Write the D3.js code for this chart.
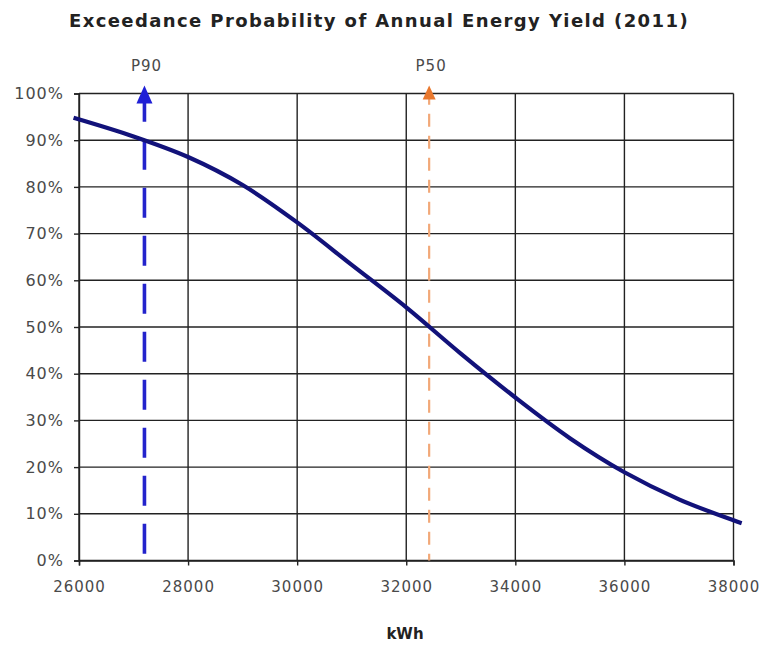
<!DOCTYPE html>
<html>
<head>
<meta charset="utf-8">
<script src="https://cdn.jsdelivr.net/npm/d3@7"></script>
<style>
  body { margin: 0; background: #fff; }
  text { font-family: "DejaVu Sans", Verdana, sans-serif; }
</style>
</head>
<body>
<div id="chart"></div>
<script>
// values
var energy = [25900, 27000, 28000, 29000, 30000, 31000, 32000, 33000, 34000, 35000, 36000, 37000, 38000, 38150];
var exceed = [94.8, 90.8, 86.4, 80.4, 72.4, 63.3, 54.2, 44.3, 34.9, 26.2, 18.9, 13.1, 8.6, 8.0];
var xTicks = [26000, 28000, 30000, 32000, 34000, 36000, 38000];
var yTicks = [0, 10, 20, 30, 40, 50, 60, 70, 80, 90, 100];
var markers = [
  { name: 'P90', kwh: 27200 },
  { name: 'P50', kwh: 32420 }
];

const W = 761, H = 647;
const margin = { top: 93.5, right: 27.5, bottom: 86.5, left: 79 },
    width = W - margin.left - margin.right,
    height = H - margin.top - margin.bottom;

const svg = d3.select('#chart').append('svg')
    .attr('width', W)
    .attr('height', H);

svg.append('text')
    .attr('x', 379)
    .attr('y', 27)
    .attr('text-anchor', 'middle')
    .style('font-size', '18px')
    .style('font-weight', 'bold')
    .style('letter-spacing', '1.4px')
    .attr('fill', '#222')
    .text('Exceedance Probability of Annual Energy Yield (2011)');

const g = svg.append('g')
    .attr('transform', `translate(${margin.left},${margin.top})`);

const x = d3.scaleLinear().domain([26000, 38000]).range([0, width]);
const y = d3.scaleLinear().domain([0, 100]).range([height, 0]);

// grid
g.append('g').selectAll('line').data(yTicks).join('line')
    .attr('x1', 0).attr('x2', width)
    .attr('y1', d => y(d)).attr('y2', d => y(d))
    .attr('stroke', '#222').attr('stroke-width', 1.4);
g.append('g').selectAll('line').data(xTicks).join('line')
    .attr('y1', 0).attr('y2', height)
    .attr('x1', d => x(d)).attr('x2', d => x(d))
    .attr('stroke', '#222').attr('stroke-width', 1.4);

// axes (tick marks outside, labels)
const yAxis = g.append('g')
    .call(d3.axisLeft(y).tickValues(yTicks).tickFormat(d => d + '%').tickSize(5).tickPadding(10));
const xAxis = g.append('g')
    .attr('transform', `translate(0,${height})`)
    .call(d3.axisBottom(x).tickValues(xTicks).tickFormat(d3.format('d')).tickSize(5).tickPadding(16));
[yAxis, xAxis].forEach(a => {
  a.select('.domain').attr('stroke', '#222').attr('stroke-width', 1.4);
  a.selectAll('.tick line').attr('stroke', '#222').attr('stroke-width', 1.4);
  a.selectAll('.tick text')
    .attr('fill', '#4a4a4a')
    .style('letter-spacing', '1px')
    .style('font-family', '"DejaVu Sans", Verdana, sans-serif');
});
yAxis.selectAll('.tick text').style('font-size', '16px');
xAxis.selectAll('.tick text').style('font-size', '15px');

// P90 / P50 lines
const styles = {
  P90: { line: '#2323cc', head: '#1f1fd6', width: 3.6, dash: '30,18', hw: 8, hh: 18 },
  P50: { line: '#f2a878', head: '#e9782e', width: 2.2, dash: '13,9', hw: 6.5, hh: 14 }
};
markers.forEach(m => {
  const s = styles[m.name];
  const px = x(m.kwh);
  g.append('line')
    .attr('x1', px).attr('x2', px)
    .attr('y1', y(100) - 1.8).attr('y2', y(0))
    .attr('stroke', s.line)
    .attr('stroke-width', s.width)
    .attr('stroke-dasharray', s.dash);
  const tip = y(100) - 8;
  g.append('path')
    .attr('d', `M${px},${tip} L${px + s.hw},${tip + s.hh} L${px - s.hw},${tip + s.hh} Z`)
    .attr('fill', s.head);
  g.append('text')
    .attr('x', px + 2)
    .attr('y', -23)
    .attr('text-anchor', 'middle')
    .attr('fill', '#4a4a4a')
    .style('font-size', '15px')
    .style('letter-spacing', '1px')
    .text(m.name);
});

// curve
const line = d3.line()
    .x((d, i) => x(energy[i]))
    .y(d => y(d))
    .curve(d3.curveCatmullRom.alpha(0.5));
g.append('path')
    .datum(exceed)
    .attr('d', line)
    .attr('fill', 'none')
    .attr('stroke', '#12127a')
    .attr('stroke-width', 4.2);

svg.append('text')
    .attr('x', 405)
    .attr('y', 639)
    .attr('text-anchor', 'middle')
    .style('font-size', '15px')
    .style('font-weight', 'bold')
    .attr('fill', '#222')
    .text('kWh');
</script>
</body>
</html>
